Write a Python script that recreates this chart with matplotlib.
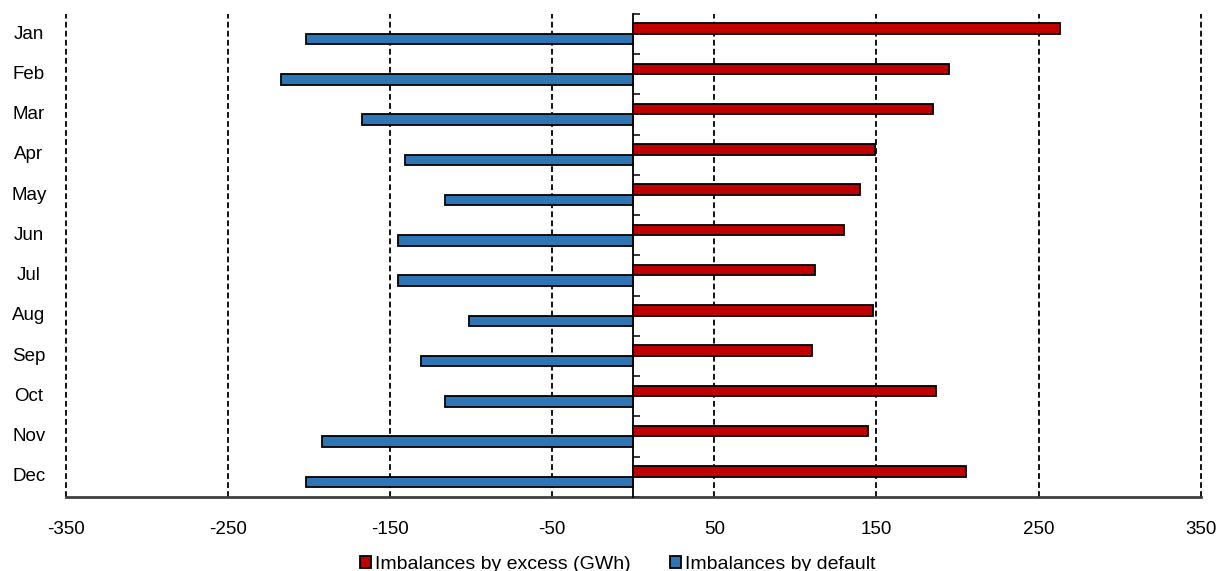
import numpy as np
import matplotlib
matplotlib.use("Agg")
import matplotlib.pyplot as plt
import matplotlib.transforms as mtransforms

months = ["Jan", "Feb", "Mar", "Apr", "May", "Jun",
          "Jul", "Aug", "Sep", "Oct", "Nov", "Dec"]
excess = [263, 195, 185, 149, 140, 130, 112, 148, 110, 187, 145, 205]
default = [-202, -217, -167, -141, -116, -145, -145, -101, -131, -116, -192, -202]
xticks = [-350, -250, -150, -50, 50, 150, 250, 350]

red = "#C00000"
blue = "#2E75B6"

plt.rcParams["font.family"] = ["Liberation Sans", "DejaVu Sans"]
plt.rcParams["font.size"] = 13.5

fig = plt.figure(figsize=(12.18, 5.71), dpi=100)
ax = fig.add_axes([0.0539, 0.1296, 0.932, 0.8459])

y = np.arange(len(months))
h = 0.26
ax.barh(y - 0.135, excess, height=h, color=red, edgecolor="black",
        linewidth=1.3, zorder=3, label="Imbalances by excess (GWh)")
ax.barh(y + 0.125, default, height=h, color=blue, edgecolor="black",
        linewidth=1.3, zorder=3, label="Imbalances by default")

ax.set_xlim(-350, 350)
ax.set_ylim(11.5, -0.5)
ax.set_xticks(xticks)
ax.set_xticklabels([str(v) for v in xticks])
ax.tick_params(axis="x", length=0, pad=17)

# zero line with the category tick marks
ax.spines["left"].set_position(("data", 0))
ax.spines["left"].set_color("black")
ax.spines["left"].set_linewidth(1.3)
ax.spines["left"].set_zorder(4)
ax.set_yticks(np.arange(-0.5, 12, 1.0))
ax.set_yticklabels([])
ax.tick_params(axis="y", direction="in", length=5, width=1.1, color="black")

ax.spines["top"].set_visible(False)
ax.spines["right"].set_visible(False)
ax.spines["bottom"].set_color("#404040")
ax.spines["bottom"].set_linewidth(2.0)

for xv in xticks:
    ax.axvline(xv, color="black", linewidth=1.3, linestyle=(0, (3.2, 1.8)),
               zorder=1, clip_on=False)

# month labels on the left edge
trans = mtransforms.blended_transform_factory(ax.transAxes, ax.transData)
for i, m in enumerate(months):
    ax.text(-0.0323, i, m, transform=trans, ha="center", va="center")

fig.legend(loc="center", bbox_to_anchor=(0.507, 0.012), ncol=2, frameon=False,
           fontsize=14, handlelength=0.58, handleheight=0.58,
           handletextpad=0.2, columnspacing=2.0, borderpad=0)

fig.savefig("out.png", dpi=100)
